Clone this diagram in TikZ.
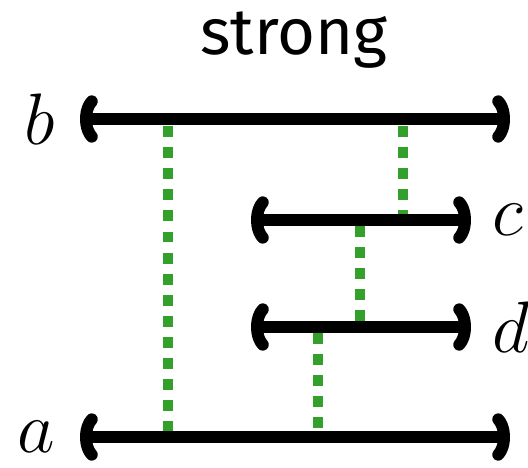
\documentclass[tikz,border=0pt]{standalone}
\usepackage{fontspec}
\setsansfont{Fira Sans}
\usetikzlibrary{arrows.meta, positioning}

\begin{document}
\begin{tikzpicture}[
  x=0.01cm, y=-0.01cm,
  every node/.style={inner sep=0pt},
  interval/.style={line width=3.4pt, {Parenthesis[length=5pt, width=15pt, round]}-{Parenthesis[length=5pt, width=15pt, round]}},
  overlap/.style={line width=3.1pt, draw={rgb,255:red,52;green,160;blue,44}, dash pattern=on 3.1pt off 2.9pt},
  lbl/.style={font=\fontsize{21}{24}\selectfont},
]
\useasboundingbox (0,0) rectangle (528,467);

% ── Titre ─────────────────────────────────────────────────────────────
\node[font=\sffamily\fontsize{18.5}{22}\selectfont] (title) at (294,40) {strong};

% ── Intervalles ───────────────────────────────────────────────────────
\coordinate (bL) at (80,119);  \coordinate (bR) at (510,119);
\coordinate (cL) at (251,220); \coordinate (cR) at (471,220);
\coordinate (dL) at (251,327); \coordinate (dR) at (471,327);
\coordinate (aL) at (80,437);  \coordinate (aR) at (510,437);

% liens en pointillés (dessous)
\coordinate (b1) at (168,126); \coordinate (a1) at (168,432);
\coordinate (b2) at (403,126); \coordinate (c2) at (403,216);
\coordinate (c3) at (360,226); \coordinate (d3) at (360,324);
\coordinate (d4) at (318,333); \coordinate (a4) at (318,432);
\draw[overlap] (b1) -- (a1);
\draw[overlap] (b2) -- (c2);
\draw[overlap] (c3) -- (d3);
\draw[overlap] (d4) -- (a4);

\draw[interval] (bL) -- (bR);
\draw[interval] (cL) -- (cR);
\draw[interval] (dL) -- (dR);
\draw[interval] (aL) -- (aR);

% ── Étiquettes ────────────────────────────────────────────────────────
\node[lbl, left=7pt of bL] (b) {$b$};
\node[lbl, right=6pt of cR] (c) {$c$};
\node[lbl, right=6pt of dR] (d) {$d$};
\node[lbl, left=7pt of aL] (a) {$a$};

\end{tikzpicture}
\end{document}
